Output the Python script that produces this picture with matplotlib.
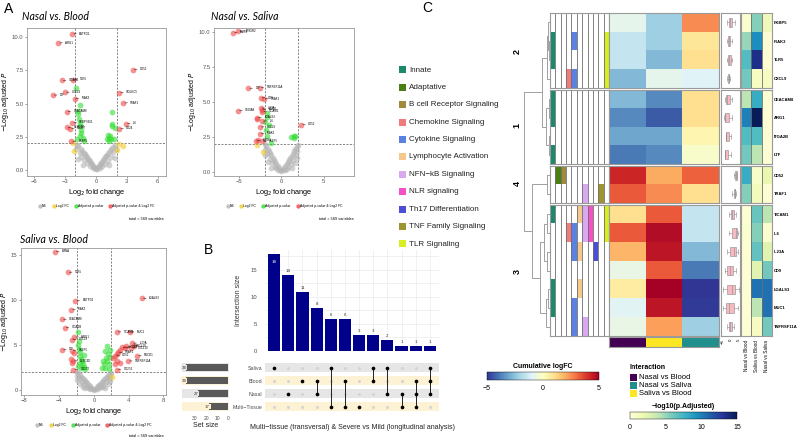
import numpy as np
import matplotlib.pyplot as plt
from matplotlib.colors import ListedColormap, Normalize, to_rgb
from matplotlib.cm import ScalarMappable
from matplotlib.lines import Line2D
from matplotlib.patches import Rectangle

plt.rcParams['font.family'] = ['Liberation Sans', 'DejaVu Sans']

# ---------------- data: volcano plots ----------------
# Nasal vs. Blood
ns1 = [(0.0, 0.05), (-0.1, 0.12), (0.1, 0.1), (-0.2, 0.22), (0.2, 0.2), (-0.3, 0.33), (0.3, 0.3),
       (-0.4, 0.45), (0.4, 0.42), (-0.5, 0.55), (0.5, 0.52), (-0.6, 0.66), (0.6, 0.62), (-0.7, 0.76),
       (0.7, 0.74), (-0.8, 0.86), (0.8, 0.85), (-0.9, 0.97), (0.9, 0.95), (-1.0, 1.08), (1.0, 1.05),
       (-1.1, 1.18), (1.1, 1.15), (-1.2, 1.3), (1.2, 1.28), (-1.35, 1.45), (1.35, 1.42), (-1.5, 1.6),
       (1.5, 1.58), (-1.7, 1.78), (1.7, 1.75), (-1.85, 1.92), (1.85, 1.9), (-0.3, 0.12), (0.35, 0.15),
       (-0.6, 0.3), (0.6, 0.28), (-0.9, 0.5), (0.9, 0.45), (-1.2, 0.75), (1.2, 0.7), (-1.5, 1.0),
       (1.5, 0.95), (-1.6, 1.3), (1.65, 1.35), (-1.9, 1.6), (1.9, 1.55), (-1.3, 0.4), (1.3, 0.35),
       (-1.75, 0.8), (1.8, 0.9)]
fc1 = [(2.26, 1.98), (2.58, 1.8), (2.01, 1.48), (-2.14, 1.4), (-2.2, 2.0)]
pv1 = [(-1.9, 6.15), (-1.54, 4.91), (-1.73, 4.43), (-1.73, 4.25), (-1.68, 3.82), (-1.6, 3.55),
       (-1.55, 3.3), (-1.5, 3.05), (-1.45, 2.8), (-1.3, 2.45), (-1.6, 2.6), (-1.85, 2.3), (-1.2, 2.2),
       (1.6, 4.4), (1.6, 3.5), (1.55, 3.3), (1.89, 3.17), (1.16, 2.66), (1.25, 2.45), (1.35, 2.55),
       (1.45, 2.3), (1.1, 2.3), (1.75, 2.35), (1.3, 2.15)]
both1 = [(-2.3, 10.25), (-3.65, 9.57), (3.6, 7.57), (-2.26, 6.82), (-3.33, 6.75), (-2.99, 5.86),
         (-4.18, 5.64), (2.26, 5.82), (-2.08, 5.38), (2.67, 5.05), (-2.86, 4.4), (2.92, 3.5),
         (2.26, 3.12), (-2.3, 3.57), (-2.86, 3.22), (-2.52, 3.1), (-2.39, 2.17)]
names1 = ['ENTPD1', 'ARG1', 'CD52', 'TLR5', 'ITGA2B', 'CXCL9', 'LTF', 'SIGLEC5', 'IRAK3', 'TRAF1',
          'CEACAM8', 'IL6', 'CD24', 'SERPING1', 'CLEC4D', 'CD177', 'FKBP5']

# Nasal vs. Saliva
ns2 = [(0.0, 0.04), (-0.15, 0.12), (0.15, 0.14), (-0.3, 0.28), (0.3, 0.26), (-0.45, 0.42), (0.45, 0.4),
       (-0.6, 0.58), (0.6, 0.55), (-0.75, 0.72), (0.75, 0.7), (-0.9, 0.88), (0.9, 0.85), (-1.05, 1.02),
       (1.05, 1.0), (-1.2, 1.18), (1.2, 1.15), (-1.35, 1.34), (1.35, 1.3), (-1.5, 1.5), (1.5, 1.48),
       (-1.65, 1.66), (1.65, 1.62), (-1.8, 1.82), (1.8, 1.8), (-1.95, 1.96), (1.95, 1.94), (-0.4, 0.15),
       (0.4, 0.12), (-0.8, 0.35), (0.8, 0.32), (-1.1, 0.6), (1.1, 0.55), (-1.4, 0.9), (1.4, 0.85),
       (-1.7, 1.25), (1.7, 1.2), (-1.9, 1.55), (1.9, 1.5), (-1.3, 0.3), (1.3, 0.25), (-1.6, 0.7),
       (1.6, 0.65), (-2.0, 1.2), (1.85, 1.0), (-0.6, 0.25), (0.6, 0.22)]
fc2 = [(-2.94, 1.94), (-2.16, 1.42)]
pv2 = [(-1.69, 4.19), (-1.7, 3.95), (-1.49, 3.33), (-1.88, 2.97), (-1.69, 2.6), (-1.29, 2.06),
       (-1.9, 3.6), (1.14, 2.48), (1.45, 2.6), (1.6, 2.55), (1.5, 2.45)]
both2 = [(-5.73, 9.95), (-5.1, 10.07), (-3.92, 5.98), (-2.59, 6.03), (-2.47, 5.29), (-2.08, 5.22),
         (-5.14, 4.39), (-2.47, 4.56), (-2.27, 4.31), (-2.35, 4.45), (-2.86, 3.87), (-2.95, 3.78),
         (-2.27, 3.63), (-2.55, 3.21), (-2.55, 2.72), (-3.06, 2.23), (-2.8, 2.25), (-2.3, 2.18),
         (2.35, 3.38)]
names2 = ['MMP8', 'IFNGR2', 'LTF', 'TNFRSF11A', 'CD9', 'TRAF1', 'S100A8', 'IL23A', 'TICAM1', 'MUC1',
          'LGALS3', '', 'IL6', 'CXCL9', 'IRAK3', 'ARG1', '', 'FKBP5', 'CD52']

# Saliva vs. Blood
ns3 = [(0.0, 0.05), (-0.15, 0.15), (0.15, 0.12), (-0.3, 0.28), (0.3, 0.3), (-0.45, 0.45), (0.45, 0.42),
       (-0.6, 0.6), (0.6, 0.58), (-0.75, 0.75), (0.75, 0.72), (-0.9, 0.9), (0.9, 0.88), (-1.05, 1.05),
       (1.05, 1.02), (-1.2, 1.2), (1.2, 1.18), (-1.35, 1.35), (1.35, 1.32), (-1.5, 1.5), (1.5, 1.5),
       (-1.65, 1.68), (1.65, 1.65), (-1.8, 1.85), (1.8, 1.82), (-1.95, 1.98), (1.95, 1.95), (-0.4, 0.12),
       (0.4, 0.15), (-0.8, 0.35), (0.8, 0.3), (-1.1, 0.6), (1.1, 0.55), (-1.4, 0.9), (1.4, 0.85),
       (-1.7, 1.2), (1.7, 1.25), (-1.9, 1.55), (1.9, 1.5), (-1.3, 0.3), (1.3, 0.28), (-1.6, 0.7),
       (1.6, 0.7), (-2.0, 1.1), (1.9, 1.05), (-0.6, 0.2), (0.6, 0.22), (-1.0, 0.25), (1.0, 0.3)]
fc3 = [(2.06, 1.44)]
pv3 = [(-1.87, 6.46), (-1.75, 5.5), (-1.8, 5.0), (-1.7, 4.6), (-1.65, 4.2), (-1.6, 3.8), (-1.5, 3.5),
       (-1.4, 3.2), (-1.3, 2.9), (-1.2, 2.6), (-1.45, 2.4), (-1.65, 3.0), (-1.0, 2.3), (-1.8, 2.7),
       (-1.1, 3.9), (1.5, 4.94), (1.3, 4.37), (1.6, 3.99), (1.4, 3.6), (1.5, 3.2), (1.7, 2.9),
       (1.15, 2.85), (1.3, 2.5), (1.75, 2.3), (0.9, 2.4), (1.8, 4.5), (1.9, 3.7), (1.05, 3.2)]
both3 = [(-4.49, 15.4), (-3.0, 13.1), (-2.13, 9.96), (-2.62, 8.94), (-3.67, 7.87), (-3.37, 6.92),
         (-2.25, 5.89), (-2.55, 5.59), (-3.67, 4.49), (-2.55, 4.37), (-2.3, 4.1), (-2.43, 3.23),
         (-2.5, 3.05), (-2.36, 2.28), (-2.6, 3.4), (5.54, 10.19), (2.62, 6.46), (4.12, 6.46),
         (4.42, 5.21), (3.18, 4.75), (3.55, 4.7), (3.75, 4.85), (2.98, 4.4), (2.8, 4.2), (2.62, 4.0),
         (2.45, 3.8), (2.62, 3.23), (3.0, 3.05), (3.93, 3.23), (4.98, 3.8), (4.3, 4.68), (4.6, 4.9),
         (2.62, 2.28), (2.25, 3.6), (2.4, 2.9)]
names3 = ['LMNA', 'TLR5', 'ENTPD1', 'IRAK3', 'CEACAM8', 'ITGA2B', 'ARG1', 'CXCL9', 'LTF', 'FKBP5', '',
          'CLEC4D', '', 'CD177', '', 'LGALS3', 'TICAM1', 'MUC1', 'IL23A', 'IL6', 'CD9', 'IL1R1', '',
          'TRAF1', '', 'CD52', '', '', 'TNFRSF11A', 'PDCD1', 'CXCL10', 'IL10', 'CD274', '', '']

# ---------------- data: upset ----------------
inter_sizes = [18, 14, 11, 8, 6, 6, 3, 3, 2, 1, 1, 1]
set_names = ['Saliva', 'Blood', 'Nasal', 'Multi\u2212Tissue']
set_sizes = [38, 38, 27, 17]
combos = [['Saliva'], ['Nasal'], ['Blood'], ['Blood', 'Nasal'], ['Saliva', 'Multi\u2212Tissue'],
          ['Blood', 'Multi\u2212Tissue'], ['Multi\u2212Tissue'], ['Saliva', 'Blood'], ['Saliva', 'Nasal'],
          ['Nasal', 'Multi\u2212Tissue'], ['Blood', 'Nasal', 'Multi\u2212Tissue'], ['Saliva', 'Blood', 'Nasal']]

# ---------------- data: heatmap ----------------
genes = ['FKBP5', 'IRAK3', 'TLR5', 'CXCL9', 'CEACAM8', 'ARG1', 'ITGA2B', 'LTF', 'CD52', 'TRAF1',
         'TICAM1', 'IL6', 'IL23A', 'CD9', 'LGALS3', 'MUC1', 'TNFRSF11A']
clusters = [2, 2, 2, 2, 1, 1, 1, 1, 4, 4, 3, 3, 3, 3, 3, 3, 3]
comparisons = ['Nasal vs Blood', 'Saliva vs Blood', 'Nasal vs Saliva']
comparison_colors = ['#440154', '#fde725', '#21908d']
interaction_order = ['Nasal vs Blood', 'Nasal vs Saliva', 'Saliva vs Blood']
logfc_nb = [-0.8, -1.5, -1.5, -2.7, -2.7, -3.6, -3.1, -3.9, 4.2, 3.3, 1.0, 3.3, 1.8, -0.7, 0.6, -0.9, -0.7]
logfc_sb = [-2.2, -2.2, -2.7, -0.8, -3.6, -4.4, -3.1, -3.6, 2.0, 2.5, 3.3, 4.7, 4.5, 3.3, 5.0, 4.5, 2.2]
logfc_ns = [2.5, 0.8, 1.0, -1.0, 1.0, 1.0, 0.3, -0.2, 3.2, 1.0, -1.5, -1.5, -2.7, -3.9, -5.0, -4.9, -2.2]
padj_nb = [0.5, 5.0, 7.0, 6.0, 4.0, 10.0, 7.0, 6.0, 8.0, 5.5, 0.3, 0.5, 0.3, 0.3, 0.3, 0.3, 0.3]
padj_sb = [5.5, 9.5, 13.5, 1.0, 8.0, 15.0, 7.0, 4.0, 0.7, 1.3, 6.3, 5.5, 6.5, 2.5, 10.5, 4.0, 1.0]
padj_ns = [1.5, 0.3, 0.3, 1.0, 0.3, 0.3, 0.3, 0.3, 2.0, 0.3, 4.0, 0.5, 2.5, 6.0, 10.5, 10.5, 6.0]

pathways = ['Innate', 'Adaptative', 'B cell Receptor Signaling', 'Chemokine Signaling',
            'Cytokine Signaling', 'Lymphocyte Activation', 'NFN\u2212kB Signaling', 'NLR signaling',
            'Th17 Differentiation', 'TNF Family Signaling', 'TLR Signaling']
pathway_colors = ['#1b8a6b', '#4b7f12', '#a08b3a', '#f07b7b', '#5b82e0', '#f5c98b', '#d9a9f0',
                  '#f550c8', '#4d4ed6', '#9c9530', '#d8ee22']
membership = {
    'FKBP5': [], 'IRAK3': ['Innate', 'Cytokine Signaling', 'TLR Signaling'],
    'TLR5': ['Innate', 'TLR Signaling'],
    'CXCL9': ['Chemokine Signaling', 'Cytokine Signaling', 'TLR Signaling'],
    'CEACAM8': ['Innate'], 'ARG1': ['Innate'], 'ITGA2B': [], 'LTF': ['Innate'],
    'CD52': ['Adaptative', 'B cell Receptor Signaling'],
    'TRAF1': ['NFN\u2212kB Signaling', 'TNF Family Signaling'],
    'TICAM1': ['Innate', 'Lymphocyte Activation', 'NFN\u2212kB Signaling', 'NLR signaling', 'TLR Signaling'],
    'IL6': ['Chemokine Signaling', 'Cytokine Signaling', 'NFN\u2212kB Signaling', 'NLR signaling',
            'TLR Signaling'],
    'IL23A': ['Cytokine Signaling', 'Lymphocyte Activation', 'Th17 Differentiation'],
    'CD9': [], 'LGALS3': ['Innate', 'Lymphocyte Activation'],
    'MUC1': ['Innate', 'Cytokine Signaling'],
    'TNFRSF11A': ['Cytokine Signaling', 'NFN\u2212kB Signaling'],
}
# dendrogram (leaf = row index, node = (left, right, height))
tree = ((((0, (1, 2, 0.03), 0.06), 3, 0.12), ((4, 5, 0.04), (6, 7, 0.05), 0.16), 0.3),
        ((8, 9, 0.12), (((10, 11, 0.1), (12, 13, 0.12), 0.22), ((14, 15, 0.08), 16, 0.16), 0.38), 0.69),
        1.0)

# ---------------- figure ----------------
W, H = 798, 440
fig = plt.figure(figsize=(W / 100, H / 100), dpi=100)


def px_axes(x0, y0, x1, y1):
    return fig.add_axes([x0 / W, 1 - y1 / H, (x1 - x0) / W, (y1 - y0) / H])


def ftext(x, y, s, **kw):
    fig.text(x / W, 1 - y / H, s, **kw)


def volcano(rect, title, tpos, ns, fc, pv, both, names, xlim, ylim, xticks, yticks, yfmt, total_pos):
    ax = px_axes(*rect)
    for pts, col in [(ns, '#b5b5b5'), (fc, '#f0cc2e'), (pv, '#33dd33'), (both, '#f04848')]:
        pts = np.array(pts)
        ax.scatter(pts[:, 0], pts[:, 1], s=17, c=col, alpha=0.6, lw=0, zorder=2)
    pts = np.array(both)
    for (x, y), nm in zip(pts, names):
        if nm:
            ax.annotate(nm, (x, y), xytext=(5, 0.3), textcoords='offset points', fontsize=2.1,
                        va='center', arrowprops=dict(arrowstyle='-', lw=0.3, color='k',
                                                     shrinkA=0, shrinkB=1), zorder=3)
    for v in (-2, 2):
        ax.axvline(v, ls=(0, (3, 2)), color='#555555', lw=0.5, zorder=1)
    ax.axhline(2, ls=(0, (3, 2)), color='#555555', lw=0.5, zorder=1)
    ax.set_xlim(xlim)
    ax.set_ylim(ylim)
    ax.set_xticks(xticks)
    ax.set_yticks(yticks)
    ax.set_yticklabels([yfmt.format(t) for t in yticks])
    ax.tick_params(labelsize=4.2, colors='#555555', length=1.5, width=0.4, pad=1)
    for s in ax.spines.values():
        s.set_color('#999999')
        s.set_linewidth(0.6)
    ax.set_xlabel(r'Log$_2$ fold change', fontsize=5.3, labelpad=2)
    ax.set_ylabel(r'$-$Log$_{10}$ adjusted $P$', fontsize=5.0, labelpad=0.5)
    ftext(tpos[0], tpos[1], title, fontsize=7.6, style='italic', family='Lato', va='center')
    handles = [Line2D([], [], ls='', marker='o', ms=2.2, color=c, alpha=0.7)
               for c in ['#b5b5b5', '#f0cc2e', '#33dd33', '#f04848']]
    ax.legend(handles, ['NS', 'Log2 FC', 'Adjusted p-value', 'Adjusted p-value & Log2 FC'],
              ncol=4, fontsize=2.4, frameon=False, loc='center',
              bbox_to_anchor=(0.5, -30 / (rect[3] - rect[1])),
              handletextpad=0.1, columnspacing=1.6, handlelength=1)
    ftext(total_pos[0], total_pos[1], 'total = 569 variables', fontsize=2.8, ha='right', va='center')
    return ax


volcano((27, 28, 166, 176), 'Nasal vs. Blood', (22, 17), ns1, fc1, pv1, both1, names1,
        (-6.7, 6.8), (-0.45, 10.7), [-6, -3, 0, 3, 6], [0, 2.5, 5, 7.5, 10], '{:.1f}', (164, 219))
volcano((214, 28, 354, 176), 'Nasal vs. Saliva', (211, 17), ns2, fc2, pv2, both2, names2,
        (-8.0, 8.6), (-0.3, 10.3), [-5, 0, 5], [0, 2.5, 5, 7.5, 10], '{:.1f}', (354, 219))
volcano((21, 248, 166, 395), 'Saliva vs. Blood', (20, 239), ns3, fc3, pv3, both3, names3,
        (-8.4, 8.3), (-0.55, 15.8), [-8, -4, 0, 4, 8], [0, 5, 10, 15], '{:.0f}', (164, 436))

# ---------------- panel B: upset ----------------
n_int = len(inter_sizes)
ax_b = px_axes(265, 250, 439, 351)
ax_b.bar(range(n_int), inter_sizes, width=0.86, color='#00008b', zorder=2)
for i, v in enumerate(inter_sizes):
    if v >= 18:
        ax_b.text(i, v - 1.5, str(v), ha='center', va='center', fontsize=3.2, color='white', zorder=3)
    else:
        ax_b.text(i, v + 0.35, str(v), ha='center', va='bottom', fontsize=3.2, color='#333333', zorder=3)
ax_b.set_xlim(-0.65, n_int - 0.35)
ax_b.set_ylim(0, 18.7)
ax_b.set_xticks(range(n_int))
ax_b.set_xticklabels([])
ax_b.set_yticks([0, 5, 10, 15])
ax_b.set_yticks([2.5, 7.5, 12.5, 17.5], minor=True)
ax_b.grid(True, which='both', color='#ebebeb', lw=0.5, zorder=0)
ax_b.tick_params(which='both', length=0, labelsize=4.2, colors='#4d4d4d', pad=6)
for s in ax_b.spines.values():
    s.set_visible(False)
ax_b.set_ylabel('Intersection size', fontsize=5, color='#333333', labelpad=6)

band_colors = ['#e6e6e6', '#fdf2d3', '#e6e6e6', '#fdf2d3']
ax_m = px_axes(265, 361, 439, 413)
for r in range(len(set_names)):
    ax_m.axhspan(r - 0.33, r + 0.33, color=band_colors[r], lw=0, zorder=0)
for i, combo in enumerate(combos):
    rows = [set_names.index(s) for s in combo]
    ax_m.scatter([i] * len(set_names), range(len(set_names)), s=5, color='#d5d5d5', lw=0, zorder=1)
    if len(rows) > 1:
        ax_m.plot([i, i], [min(rows), max(rows)], color='#222222', lw=0.7, zorder=2)
    ax_m.scatter([i] * len(rows), rows, s=7, color='black', lw=0, zorder=3)
ax_m.set_xlim(-0.65, n_int - 0.35)
ax_m.set_ylim(3.5, -0.5)
ax_m.set_xticks([])
ax_m.set_yticks(range(len(set_names)))
ax_m.set_yticklabels(set_names)
ax_m.tick_params(length=0, labelsize=3.8, colors='#4d4d4d', pad=2)
for s in ax_m.spines.values():
    s.set_visible(False)
ax_m.set_xlabel('Multi\u2212tissue (transversal) & Severe vs Mild (longitudinal analysis)',
                fontsize=5, color='#222222', labelpad=8)

ax_s = px_axes(182, 361, 229, 413)
for r in range(len(set_names)):
    ax_s.axhspan(r - 0.33, r + 0.33, color=band_colors[r], lw=0, zorder=0)
ax_s.barh(range(len(set_names)), set_sizes, height=0.6, color='#595959', zorder=2)
for r, v in enumerate(set_sizes):
    ax_s.text(v - 0.5, r, str(v), ha='right', va='center', fontsize=3.2, color='#333333', zorder=3,
              bbox=dict(boxstyle='square,pad=0.15', fc=band_colors[r], ec='none'))
ax_s.set_xlim(41.5, -0.5)
ax_s.set_ylim(3.5, -0.5)
ax_s.set_yticks([])
ax_s.set_xticks([30, 20, 10, 0])
ax_s.tick_params(length=0, labelsize=3.6, colors='#4d4d4d', pad=2)
for s in ax_s.spines.values():
    s.set_visible(False)
ax_s.set_xlabel('Set size', fontsize=5, color='#222222', labelpad=1)

# ---------------- panel C: heatmap ----------------
logfc = np.array([logfc_nb, logfc_sb, logfc_ns]).T
padj = np.array([padj_nb, padj_sb, padj_ns]).T
cmap_fc = plt.get_cmap('RdYlBu_r')
cmap_p = plt.get_cmap('YlGnBu')
cl_order = [2, 1, 4, 3]
cl_ranges = {2: (13, 88), 1: (90, 164), 4: (166, 203), 3: (205, 336)}
frame = '#9a9a9a'

row_centers = {}
for k in cl_order:
    idx = [i for i, c in enumerate(clusters) if c == k]
    y0, y1 = cl_ranges[k]
    n = len(idx)
    for j, i in enumerate(idx):
        row_centers[i] = y0 + (j + 0.5) * (y1 - y0) / n

    # pathway annotation
    ax_a = px_axes(550, y0, 609, y1)
    img = np.ones((n, len(pathways), 3))
    for j, i in enumerate(idx):
        for p in membership[genes[i]]:
            img[j, pathways.index(p)] = to_rgb(pathway_colors[pathways.index(p)])
    ax_a.imshow(img, aspect='auto', interpolation='nearest')
    for c in range(1, len(pathways)):
        ax_a.axvline(c - 0.5, color='#6e6e6e', lw=0.6)
    ax_a.set_xticks([])
    ax_a.set_yticks([])
    for s in ax_a.spines.values():
        s.set_color(frame)
        s.set_linewidth(0.8)

    # logFC heatmap
    ax_h = px_axes(609, y0, 719, y1)
    ax_h.imshow(logfc[idx], cmap=cmap_fc, vmin=-5, vmax=5, aspect='auto', interpolation='nearest')
    ax_h.set_xticks([])
    ax_h.set_yticks([])
    for s in ax_h.spines.values():
        s.set_color(frame)
        s.set_linewidth(0.8)

    # boxplots of the logFC values
    ax_bx = px_axes(721, y0, 740, y1)
    ax_bx.boxplot([logfc[i] for i in idx], positions=range(n), vert=False, widths=0.5,
                  patch_artist=True, showfliers=False,
                  boxprops=dict(facecolor='#f6b9c2', edgecolor='#8a8a8a', lw=0.4),
                  whiskerprops=dict(color='#8a8a8a', lw=0.4), capprops=dict(color='#8a8a8a', lw=0.4),
                  medianprops=dict(color='#8a8a8a', lw=0.4))
    ax_bx.set_xlim(-6.3, 5.8)
    ax_bx.set_ylim(n - 0.5, -0.5)
    ax_bx.set_yticks([])
    for s in ax_bx.spines.values():
        s.set_color(frame)
        s.set_linewidth(0.8)

    # adjusted p-values
    ax_p = px_axes(741, y0, 772, y1)
    ax_p.imshow(padj[idx], cmap=cmap_p, vmin=0, vmax=15, aspect='auto', interpolation='nearest')
    for c in (0.5, 1.5):
        ax_p.axvline(c, color='#6e6e6e', lw=0.6)
    ax_p.yaxis.tick_right()
    ax_p.set_yticks(range(n))
    ax_p.set_yticklabels([genes[i] for i in idx], fontsize=3.0, fontweight='bold')
    ax_p.tick_params(axis='y', length=0, pad=1.5)
    for s in ax_p.spines.values():
        s.set_color(frame)
        s.set_linewidth(0.8)

    if k == 3:
        ax_bx.set_xticks([-5, 0, 5])
        ax_bx.set_xticklabels(['\u22125', '0', '5'], rotation=90, fontsize=3.2)
        ax_bx.tick_params(axis='x', length=1, width=0.3, pad=1)
        ax_p.set_xticks(range(3))
        ax_p.set_xticklabels(comparisons, rotation=90, fontsize=3.3)
        ax_p.tick_params(axis='x', length=0, pad=3)
    else:
        ax_bx.set_xticks([])
        ax_p.set_xticks([])

# column annotation
ax_c = px_axes(609, 337, 719, 347)
ax_c.imshow([[0, 1, 2]], cmap=ListedColormap(comparison_colors), aspect='auto')
ax_c.set_xticks([])
ax_c.set_yticks([])
for s in ax_c.spines.values():
    s.set_color(frame)
    s.set_linewidth(0.8)

# dendrogram
ax_d = px_axes(522, 13, 550, 336)


def draw_node(node):
    if isinstance(node, int):
        return row_centers[node], 0.0
    left, right, h = node
    yl, hl = draw_node(left)
    yr, hr = draw_node(right)
    ax_d.plot([hl, h, h, hr], [yl, yl, yr, yr], color='#a0a0a0', lw=0.7)
    return (yl + yr) / 2, h


draw_node(tree)
ax_d.set_xlim(1.08, 0)
ax_d.set_ylim(336, 13)
ax_d.axis('off')

for k, yc in zip(cl_order, [52, 125, 183, 272]):
    ftext(517, yc, str(k), fontsize=6.5, fontweight='bold', rotation=90, ha='center', va='center')

# pathway legend
for i, (p, c) in enumerate(zip(pathways, pathway_colors)):
    yc = 70 + 17.4 * i
    fig.patches.append(Rectangle((399 / W, 1 - (yc + 3.5) / H), 7 / W, 7 / H, transform=fig.transFigure,
                                 fc=c, ec='none'))
    ftext(409, yc, p, fontsize=5.8, va='center', color='#222222')

# logFC colorbar
ax_cb1 = px_axes(487, 372, 599, 380)
cb1 = fig.colorbar(ScalarMappable(norm=Normalize(-5, 5), cmap=cmap_fc), cax=ax_cb1, orientation='horizontal')
cb1.set_ticks([-5, 0, 5])
cb1.set_ticklabels(['\u22125', '0', '5'])
cb1.ax.tick_params(labelsize=5, length=2, width=0.4, color='white', pad=1.5)
cb1.outline.set_linewidth(0.3)
ftext(543, 366, 'Cumulative logFC', fontsize=5, fontweight='bold', ha='center', va='center')

# interaction legend
ftext(630, 367, 'Interaction', fontsize=5, fontweight='bold', va='center')
for i, lab in enumerate(interaction_order):
    yc = 377 + 8 * i
    c = comparison_colors[comparisons.index(lab)]
    fig.patches.append(Rectangle((630 / W, 1 - (yc + 3.5) / H), 7 / W, 7 / H, transform=fig.transFigure,
                                 fc=c, ec='none'))
    ftext(639, yc, lab, fontsize=5.5, va='center')

# p-value colorbar
ax_cb2 = px_axes(630, 412, 737, 419)
cb2 = fig.colorbar(ScalarMappable(norm=Normalize(0, 15), cmap=cmap_p), cax=ax_cb2, orientation='horizontal')
cb2.set_ticks([0, 5, 10, 15])
cb2.ax.tick_params(labelsize=5, length=2, width=0.4, color='white', pad=1.5)
cb2.outline.set_linewidth(0.3)
ftext(683, 406, '\u2212log10(p.Adjusted)', fontsize=5, fontweight='bold', ha='center', va='center')

# panel letters
ftext(4, 9, 'A', fontsize=10, va='center')
ftext(204, 250, 'B', fontsize=10, va='center')
ftext(422, 8, 'C', fontsize=10, va='center')

fig.savefig('out.png', dpi=100)
